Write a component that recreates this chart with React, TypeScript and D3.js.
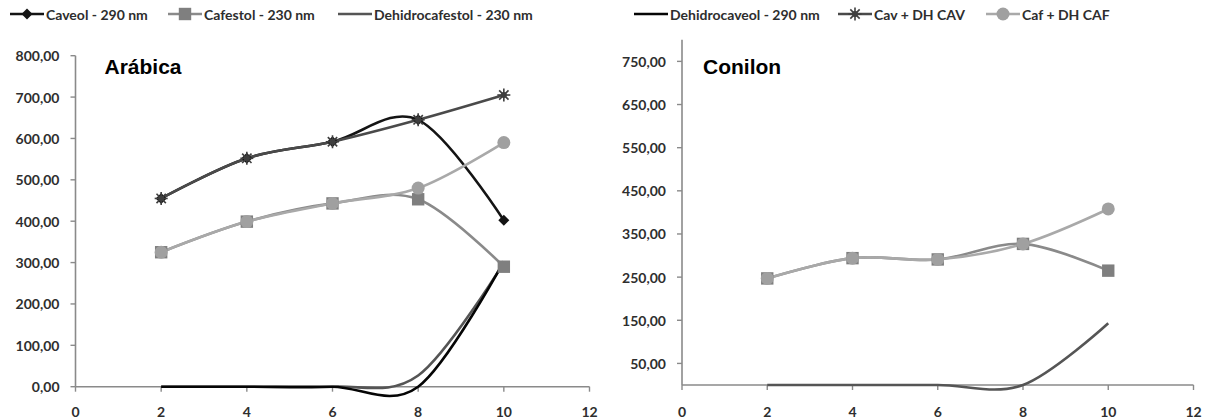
import React from "react";
import * as d3 from "d3";

// Sampling points (x axis)
const xPoints = [2, 4, 6, 8, 10];

// Arábica series
const arabicaCaveol = [455, 552, 592, 645, 402];
const arabicaCafestol = [325, 399, 443, 453, 290];
const arabicaDHCafestol = [0, 0, 0, 27, 300];
const arabicaDHCaveol = [0, 0, 0, 0, 303];
const arabicaCavDH = [455, 552, 592, 645, 705];
const arabicaCafDH = [325, 399, 443, 480, 590];

// Conilon series
const conilonCafestol = [247, 294, 291, 327, 265];
const conilonDHCafestol = [0, 0, 0, 0, 143];
const conilonCafDH = [247, 294, 291, 327, 408];

// Axis ticks
const xTicks = [0, 2, 4, 6, 8, 10, 12];
const arabicaYTicks = [0, 100, 200, 300, 400, 500, 600, 700, 800];
const conilonYTicks = [50, 150, 250, 350, 450, 550, 650, 750];

// Legend entries
const legendLabels = [
  "Caveol - 290 nm",
  "Cafestol - 230 nm",
  "Dehidrocafestol - 230 nm",
  "Dehidrocaveol - 290 nm",
  "Cav + DH CAV",
  "Caf + DH CAF",
];

type MarkerKind = "diamond" | "square" | "star" | "circle" | "none";

interface SeriesStyle {
  stroke: string;
  marker: MarkerKind;
  markerColor: string;
}

const styles: Record<string, SeriesStyle> = {
  caveol: { stroke: "#141414", marker: "diamond", markerColor: "#141414" },
  cafestol: { stroke: "#8a8a8a", marker: "square", markerColor: "#7f7f7f" },
  dhcaf: { stroke: "#555555", marker: "none", markerColor: "#555555" },
  dhcav: { stroke: "#050505", marker: "none", markerColor: "#050505" },
  cavdh: { stroke: "#4a4a4a", marker: "star", markerColor: "#3e3e3e" },
  cafdh: { stroke: "#a9a9a9", marker: "circle", markerColor: "#a0a0a0" },
};

const legendKeys = ["caveol", "cafestol", "dhcaf", "dhcav", "cavdh", "cafdh"];
const legendX = [10, 168, 338, 634, 838, 986];
const legendLine = 34;

const FONT = "Lato, 'Open Sans', sans-serif";
const TEXT_COLOR = "#2e2e2e";
const AXIS_COLOR = "#8a8a8a";

function Marker({ kind, x, y, color }: { kind: MarkerKind; x: number; y: number; color: string }) {
  if (kind === "diamond") {
    const s = 5.5;
    return <path d={`M${x},${y - s}L${x + s},${y}L${x},${y + s}L${x - s},${y}Z`} fill={color} />;
  }
  if (kind === "square") {
    const s = 6.2;
    return <rect x={x - s} y={y - s} width={2 * s} height={2 * s} fill={color} />;
  }
  if (kind === "circle") {
    return <circle cx={x} cy={y} r={6.5} fill={color} />;
  }
  if (kind === "star") {
    const s = 6.5;
    const d = s * 0.72;
    return (
      <g stroke={color} strokeWidth={1.6}>
        <line x1={x - s} y1={y} x2={x + s} y2={y} />
        <line x1={x} y1={y - s} x2={x} y2={y + s} />
        <line x1={x - d} y1={y - d} x2={x + d} y2={y + d} />
        <line x1={x - d} y1={y + d} x2={x + d} y2={y - d} />
        <circle cx={x} cy={y} r={3} fill={color} stroke="none" />
      </g>
    );
  }
  return null;
}

interface PanelSeries {
  key: string;
  values: number[];
}

function Panel({
  title,
  titleOffset,
  series,
  yTicks,
  x0,
  x1,
  yBottom,
  yTop,
  yMax,
}: {
  title: string;
  titleOffset: number;
  series: PanelSeries[];
  yTicks: number[];
  x0: number;
  x1: number;
  yBottom: number;
  yTop: number;
  yMax: number;
}) {
  const x = d3.scaleLinear().domain([0, 12]).range([x0, x1]);
  const y = d3.scaleLinear().domain([0, yMax]).range([yBottom, yTop]);
  const line = d3
    .line<number>()
    .x((_, i) => x(xPoints[i]))
    .y((v) => y(v))
    .curve(d3.curveCardinal.tension(0));

  return (
    <g>
      {/* vertical axis */}
      <line x1={x0} y1={yTop} x2={x0} y2={yBottom} stroke={AXIS_COLOR} strokeWidth={1.6} />
      {yTicks.map((t) => (
        <g key={t}>
          <line x1={x0 - 5} y1={y(t)} x2={x0} y2={y(t)} stroke={AXIS_COLOR} strokeWidth={1.4} />
          <text
            x={x0 - 16}
            y={y(t)}
            textAnchor="end"
            dominantBaseline="central"
            fontFamily={FONT}
            fontWeight={700}
            fontSize={14}
            fill={TEXT_COLOR}
          >
            {d3.format(".2f")(t).replace(".", ",")}
          </text>
        </g>
      ))}
      {/* horizontal axis at zero */}
      <line x1={x0} y1={y(0)} x2={x1} y2={y(0)} stroke={AXIS_COLOR} strokeWidth={1.6} />
      {xTicks.map((t) => (
        <g key={t}>
          <line x1={x(t)} y1={y(0)} x2={x(t)} y2={y(0) + 5} stroke={AXIS_COLOR} strokeWidth={1.4} />
          <text
            x={x(t)}
            y={411}
            textAnchor="middle"
            dominantBaseline="central"
            fontFamily={FONT}
            fontWeight={700}
            fontSize={14}
            fill={TEXT_COLOR}
          >
            {t}
          </text>
        </g>
      ))}
      <text
        x={x0 + titleOffset}
        y={74}
        fontFamily="'Liberation Sans', Arial, sans-serif"
        fontWeight={700}
        fontSize={21}
        fill="#000"
      >
        {title}
      </text>
      {series.map((s) => (
        <path
          key={s.key}
          d={line(s.values) || ""}
          fill="none"
          stroke={styles[s.key].stroke}
          strokeWidth={2.6}
          strokeLinejoin="round"
        />
      ))}
      {series.map((s) =>
        s.values.map((v, i) => (
          <Marker
            key={`${s.key}-${i}`}
            kind={styles[s.key].marker}
            x={x(xPoints[i])}
            y={y(v)}
            color={styles[s.key].markerColor}
          />
        ))
      )}
    </g>
  );
}

export default function App() {
  return (
    <svg
      width={1206}
      height={418}
      style={{ position: "absolute", left: 0, top: 0, background: "#fff" }}
    >
      <rect width={1206} height={418} fill="#fff" />
      {/* legend */}
      {legendLabels.map((label, i) => {
        const st = styles[legendKeys[i]];
        const lx = legendX[i];
        const ly = 14;
        return (
          <g key={label}>
            <line x1={lx} y1={ly} x2={lx + legendLine} y2={ly} stroke={st.stroke} strokeWidth={2.6} />
            <Marker kind={st.marker} x={lx + legendLine / 2} y={ly} color={st.markerColor} />
            <text
              x={lx + legendLine + 2}
              y={ly}
              dominantBaseline="central"
              fontFamily={FONT}
              fontWeight={700}
              fontSize={14}
              fill={TEXT_COLOR}
            >
              {label}
            </text>
          </g>
        );
      })}
      <Panel
        title="Arábica"
        titleOffset={29}
        series={[
          { key: "caveol", values: arabicaCaveol },
          { key: "cafestol", values: arabicaCafestol },
          { key: "dhcaf", values: arabicaDHCafestol },
          { key: "dhcav", values: arabicaDHCaveol },
          { key: "cavdh", values: arabicaCavDH },
          { key: "cafdh", values: arabicaCafDH },
        ]}
        yTicks={arabicaYTicks}
        x0={75.5}
        x1={589.5}
        yBottom={386.7}
        yTop={55.7}
        yMax={800}
      />
      <Panel
        title="Conilon"
        titleOffset={21}
        series={[
          { key: "cafestol", values: conilonCafestol },
          { key: "dhcaf", values: conilonDHCafestol },
          { key: "cafdh", values: conilonCafDH },
        ]}
        yTicks={conilonYTicks}
        x0={682}
        x1={1193.5}
        yBottom={385}
        yTop={39.8}
        yMax={800}
      />
    </svg>
  );
}
